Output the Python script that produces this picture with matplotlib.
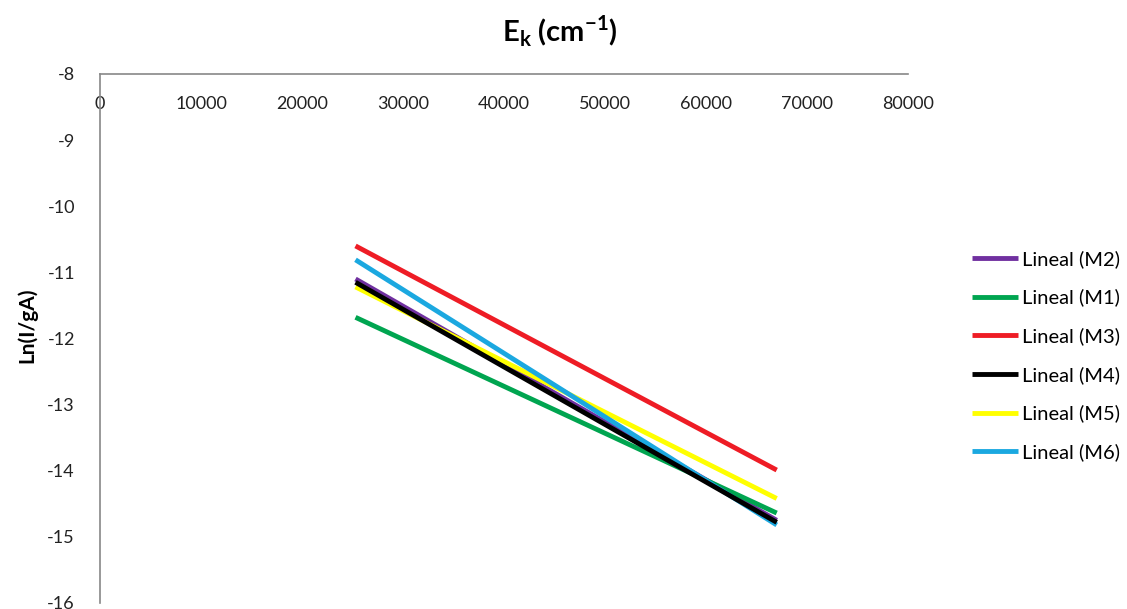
import matplotlib.pyplot as plt
import numpy as np

plt.rcParams['font.family'] = ['Lato', 'DejaVu Sans']

# Trendlinien (Anfangs- und Endpunkt)
x_ends = [25300, 67000]
series = ['M2', 'M1', 'M3', 'M4', 'M5', 'M6']
y_M2 = [-11.10, -14.75]
y_M1 = [-11.68, -14.64]
y_M3 = [-10.60, -13.99]
y_M4 = [-11.15, -14.78]
y_M5 = [-11.22, -14.42]
y_M6 = [-10.81, -14.82]
colors = ['#7030a0', '#00a550', '#ee1c25', '#000000', '#ffff00', '#1ba8e0']

xticks = np.arange(0, 80001, 10000)
yticks = np.arange(-16, -7, 1)

fig = plt.figure(figsize=(11.27, 6.09), dpi=100)
ax = fig.add_axes([0.0887, 0.0099, 0.717, 0.8686])

werte = [y_M2, y_M1, y_M3, y_M4, y_M5, y_M6]
# M4 über M2 zeichnen
order = [0, 1, 2, 4, 5, 3]
lines = {}
for i in order:
    ln, = ax.plot(x_ends, werte[i], color=colors[i], lw=3.5,
                  solid_capstyle='butt', label='Lineal (%s)' % series[i])
    lines[i] = ln

ax.set_xlim(0, 80000)
ax.set_ylim(-16, -8)
ax.set_xticks(xticks)
ax.set_yticks(yticks)
ax.set_xticklabels([str(v) for v in xticks])
ax.set_yticklabels([str(v) for v in yticks])

ax.spines['bottom'].set_position(('data', -8))
ax.spines['top'].set_visible(False)
ax.spines['right'].set_visible(False)
for s in ['bottom', 'left']:
    ax.spines[s].set_color('#888888')
    ax.spines[s].set_linewidth(1.2)
ax.tick_params(axis='x', length=0, pad=16, labelsize=13, colors='#222222')
ax.tick_params(axis='y', length=0, pad=18, labelsize=13, colors='#222222')

fig.text(0.497, 0.949, r'E$_\mathregular{k}$ (cm$^\mathregular{-1}$)', ha='center', va='center',
         fontsize=21, fontweight='bold')
fig.text(0.024, 0.466, 'Ln(I/gA)', ha='center', va='center', rotation=90,
         fontsize=15, fontweight='bold')

handles = [lines[i] for i in range(6)]
ax.legend(handles, [h.get_label() for h in handles], loc='center left',
          bbox_to_anchor=(0.8465, 0.416), bbox_transform=fig.transFigure,
          frameon=False, fontsize=14.5, handlelength=2.3, handletextpad=0.2,
          labelspacing=1.03)

plt.savefig('out.png', dpi=100)
